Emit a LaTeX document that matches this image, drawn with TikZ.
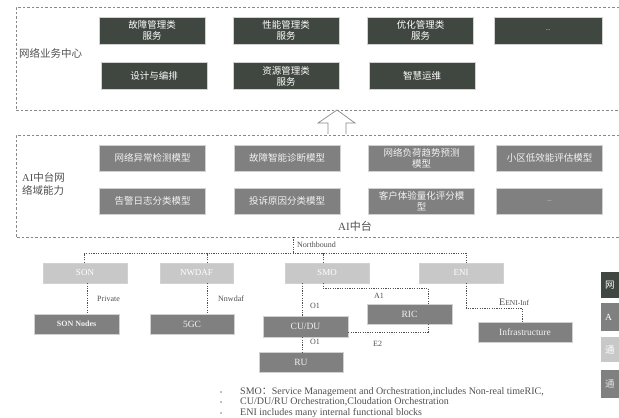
\documentclass[tikz,border=0pt]{standalone}
\usepackage{fontspec}
\setmainfont{Liberation Serif}
\newfontfamily\cjk{Noto Sans CJK SC}
\usetikzlibrary{calc}
\definecolor{dk}{HTML}{404640}
\definecolor{md}{HTML}{808080}
\definecolor{lt}{HTML}{C8C8C8}
\definecolor{ln}{HTML}{505050}
\definecolor{dl}{HTML}{888888}
\newcommand{\blt}{\makebox[20pt][l]{\fontsize{6}{6}\selectfont\textbullet}}
\begin{document}
\begin{tikzpicture}[x=1pt,y=-1pt,
  basebox/.style={draw=white!82!black, line width=0.5pt, inner sep=1pt, align=center},
  dkbox/.style={basebox, fill=dk, text=white, minimum width=106pt, minimum height=27pt, font=\cjk\fontsize{9.5}{11}\selectfont},
  mdbox/.style={basebox, fill=md, text=white!95!black, minimum width=106pt, minimum height=26pt, font=\cjk\fontsize{9.5}{11}\selectfont},
  ltbox/.style={basebox, fill=lt, text=white, minimum width=84pt, minimum height=20pt, font=\fontsize{9}{10}\selectfont},
  gbox/.style={basebox, fill=md, text=white!95!black, minimum width=84pt, minimum height=20pt, font=\fontsize{9.5}{10}\selectfont},
  lbl/.style={text=ln, inner sep=0pt, font=\fontsize{8}{9}\selectfont},
  cont/.style={draw=dl, line width=0.7pt, dash pattern=on 2.5pt off 2pt},
  conn/.style={draw=ln, line width=0.6pt, dash pattern=on 1.2pt off 1.2pt},
  legbox/.style={inner xsep=4pt, inner ysep=0pt, text width=22pt, align=left, anchor=west, font=\cjk\fontsize{9.5}{11}\selectfont}
]
\useasboundingbox (0,0) rectangle (619,418);
\fill[white] (0,0) rectangle (619,418);

% containers
\draw[cont] (619,7) -- (16,7) -- (16,110) -- (619,110);
\draw[cont] (619,135) -- (16,135) -- (16,237) -- (619,237);
\coordinate (aibot) at (293,237);

\node[anchor=west, inner sep=0pt, text=ln, font=\cjk\fontsize{10.5}{12}\selectfont] (biz) at (19,53) {网络业务中心};
\node[anchor=west, inner sep=0pt, text=ln, align=left, font=\fontsize{10.5}{13}\selectfont] (aicap) at (22,184.5) {AI{\cjk 中台网}\\{\cjk 络域能力}};
\node[inner sep=0pt, text=ln, font=\fontsize{11}{12}\selectfont] (aitag) at (355,226) {AI{\cjk 中台}};

% business boxes
\node[dkbox] (s1) at (152,30.5) {故障管理类\\服务};
\node[dkbox] (s2) at (286,30.5) {性能管理类\\服务};
\node[dkbox] (s3) at (420.5,30.5) {优化管理类\\服务};
\node[dkbox, minimum width=108pt, font=\fontsize{6}{7}\selectfont] (s4) at (548,30.5) {...};
\node[dkbox] (s5) at (154,76) {设计与编排};
\node[dkbox] (s6) at (286,76) {资源管理类\\服务};
\node[dkbox] (s7) at (422,76) {智慧运维};

% arrow
\draw[draw=dl, fill=white, line width=0.7pt] (328,134) -- (328,123) -- (318,123) -- (337,110) -- (355,123) -- (346,123) -- (346,134);

% AI boxes
\node[mdbox] (a1) at (152.5,158) {网络异常检测模型};
\node[mdbox] (a2) at (287,158) {故障智能诊断模型};
\node[mdbox] (a3) at (421.5,158) {网络负荷趋势预测\\模型};
\node[mdbox] (a4) at (549.5,158) {小区低效能评估模型};
\node[mdbox] (a5) at (152.5,201) {告警日志分类模型};
\node[mdbox] (a6) at (287,201) {投诉原因分类模型};
\node[mdbox] (a7) at (421.5,201) {客户体验量化评分模\\型};
\node[mdbox, font=\fontsize{6}{7}\selectfont] (a8) at (549.5,201) {...};

% lower nodes
\node[ltbox] (son) at (85,273) {SON};
\node[ltbox, minimum width=73pt] (nwdaf) at (196.5,273) {NWDAF};
\node[ltbox] (smo) at (327,273) {SMO};
\node[ltbox] (eni) at (461,273) {ENI};
\node[gbox, minimum width=85pt, font=\bfseries\fontsize{8}{9}\selectfont] (sonn) at (76.5,324) {SON Nodes};
\node[gbox] (fgc) at (192,324) {5GC};
\node[gbox, minimum width=85pt, minimum height=21pt] (cudu) at (305.5,326.5) {CU/DU};
\node[gbox] (ru) at (301,362) {RU};
\node[gbox, minimum width=85pt] (ric) at (409.5,314) {RIC};
\node[gbox, minimum width=94pt] (infra) at (525,332) {Infrastructure};

% helper coordinates
\coordinate (nbc) at (293,253);
\coordinate (busL) at (84,253);
\coordinate (busR) at (466,253);
\coordinate (xp) at (87,0);
\coordinate (xn) at (207,0);
\coordinate (xs) at (302,0);
\coordinate (xa) at (323,0);
\coordinate (a1c) at (428,288);
\coordinate (e2c) at (428,332);
\coordinate (eic) at (522,308);

% connectors
\draw[conn] (aibot) -- (nbc);
\draw[conn] (son.north -| busL) -- (busL) -- (busR) -- (eni.north -| busR);
\draw[conn] (nwdaf.north -| xn) -- (busL -| xn);
\draw[conn] (smo.north -| xa) -- (busL -| xa);
\draw[conn] (son.south -| xp) -- (sonn.north -| xp);
\draw[conn] (nwdaf.south -| xn) -- (fgc.north -| xn);
\draw[conn] (smo.south -| xs) -- (cudu.north -| xs);
\draw[conn] (cudu.south -| xs) -- (ru.north -| xs);
\draw[conn] (smo.south -| xa) |- (a1c) -- (ric.north -| a1c);
\draw[conn] (cudu.east |- e2c) -- (e2c) -- (ric.south -| e2c);
\draw[conn] (eni.south -| busR) |- (eic) -- (infra.north -| eic);

% labels
\node[lbl, anchor=west] (lnb) at (297,244.5) {Northbound};
\node[lbl, anchor=west] (lpr) at (97,299) {Private};
\node[lbl, anchor=west] (lnw) at (218,299) {Nnwdaf};
\node[lbl, anchor=west] (lo1) at (310,306) {O1};
\node[lbl, anchor=west] (lo2) at (310,342) {O1};
\node[lbl, anchor=west] (la1) at (374,296) {A1};
\node[lbl, anchor=west] (le2) at (373,344) {E2};
\node[lbl, anchor=west, font=\fontsize{10}{11}\selectfont] (lei) at (499,302) {E{\fontsize{7.5}{8}\selectfont ENI-Inf}};

% legend pieces at right edge
\node[legbox, fill=dk, text=white, minimum height=26pt] (g1) at (601,285) {网};
\node[legbox, fill=md, text=white, minimum height=28pt, font=\fontsize{9.5}{11}\selectfont] (g2) at (601,317) {A};
\node[legbox, fill=lt, text=white, minimum height=25pt] (g3) at (601,349.5) {通};
\node[legbox, fill=md, text=white!90!black, minimum height=28pt] (g4) at (601,384) {通};

% notes
\node[anchor=west, inner sep=0pt, text=ln, align=left, font=\fontsize{10}{10.6}\selectfont] (notes) at (220,402.5)
 {\blt SMO{\cjk ：}Service Management and Orchestration,includes Non-real timeRIC,\\
  \blt CU/DU/RU Orchestration,Cloudation Orchestration\\
  \blt ENI includes many internal functional blocks};
\end{tikzpicture}
\end{document}
